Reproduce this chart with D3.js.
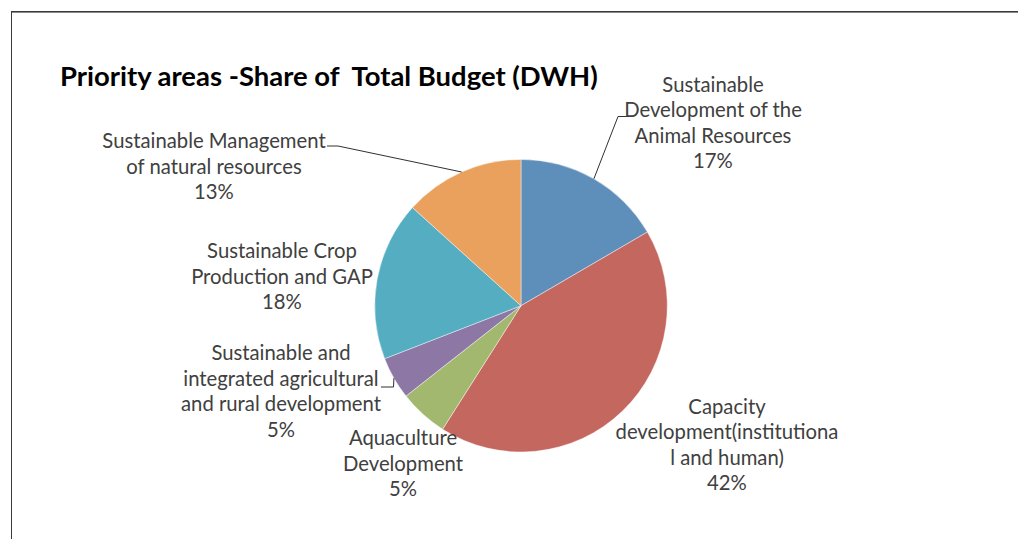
<!DOCTYPE html>
<html>
<head>
<meta charset="utf-8">
<script src="https://cdn.jsdelivr.net/npm/d3@7"></script>
<style>
  html, body { margin: 0; padding: 0; background: #fff; }
  svg { display: block; }
</style>
</head>
<body>
<svg id="chart" width="1018" height="539"></svg>
<script>
// Budget share by priority area (percent of total), clockwise from 12 o'clock
const categories = [
  "Sustainable Development of the Animal Resources",
  "Capacity development(institutional and human)",
  "Aquaculture Development",
  "Sustainable and integrated agricultural and rural development",
  "Sustainable Crop Production and GAP",
  "Sustainable Management of natural resources"
];
const shares = [16.6, 42.4, 5.4, 4.7, 17.6, 13.3];
const colors = ["#5E8FBB", "#C4675F", "#A2B86E", "#8D77A4", "#54ADC1", "#E9A15D"];
const labelLines = [
  ["Sustainable", "Development of the", "Animal Resources"],
  ["Capacity", "development(institutiona", "l and human)"],
  ["Aquaculture", "Development"],
  ["Sustainable and", "integrated agricultural", "and rural development"],
  ["Sustainable Crop", "Production and GAP"],
  ["Sustainable Management", "of natural resources"]
];
const title = "Priority areas -Share of  Total Budget (DWH)";

// layout
const cx = 521, cy = 305.7, radius = 146.3;
const lineGap = 25.6;
const labelPos = [
  { x: 713, y: 91.5 },
  { x: 727, y: 413.5 },
  { x: 403, y: 445 },
  { x: 281, y: 360 },
  { x: 282, y: 258 },
  { x: 214, y: 148 }
];
// leader line elbow and end points (null = no leader)
const leaders = [
  [[618, 116.5], [627, 116.5]],
  null,
  null,
  [[393.5, 387], [381, 387]],
  null,
  [[338, 146], [327, 146]]
];

const svg = d3.select("#chart");

// chart area border (top and left edges visible)
svg.append("line").attr("x1", 11).attr("y1", 12.5).attr("x2", 1018).attr("y2", 12.5)
  .attr("stroke", "#8a8a8a").attr("stroke-width", 1);
svg.append("line").attr("x1", 11).attr("y1", 11.5).attr("x2", 1018).attr("y2", 11.5)
  .attr("stroke", "#3a3a3a").attr("stroke-width", 1);
svg.append("line").attr("x1", 11.5).attr("y1", 11).attr("x2", 11.5).attr("y2", 539)
  .attr("stroke", "#3a3a3a").attr("stroke-width", 1);

// title
const titleText = svg.append("text")
  .attr("x", 60).attr("y", 86)
  .attr("font-family", "Lato, 'Open Sans', sans-serif")
  .attr("font-weight", "bold")
  .attr("font-size", 22)
  .attr("fill", "#000")
  .style("white-space", "pre")
  .text(title);
{
  const w = titleText.node().getComputedTextLength();
  titleText.attr("font-size", 22 * 538 / w);
}

const total = d3.sum(shares);
const data = categories.map((c, i) => ({ name: c, value: shares[i], i }));

const pie = d3.pie().value(d => d.value).sort(null);
const arcs = pie(data);
const arc = d3.arc().innerRadius(0).outerRadius(radius);

const g = svg.append("g").attr("transform", `translate(${cx},${cy})`);
g.selectAll("path.slice")
  .data(arcs)
  .join("path")
  .attr("class", "slice")
  .attr("d", arc)
  .attr("fill", d => colors[d.data.i])
  .attr("stroke", "#ffffff")
  .attr("stroke-opacity", 0.55)
  .attr("stroke-width", 0.8);

// leader lines from slice mid-angle on the rim
arcs.forEach(a => {
  const L = leaders[a.data.i];
  if (!L) return;
  const mid = (a.startAngle + a.endAngle) / 2;
  const sx = cx + radius * Math.sin(mid);
  const sy = cy - radius * Math.cos(mid);
  const pts = [[sx, sy], ...L];
  svg.append("path")
    .attr("d", d3.line()(pts))
    .attr("fill", "none")
    .attr("stroke", "#303030")
    .attr("stroke-width", 1);
});

// data labels: category name + rounded percentage
const labelsG = svg.append("g")
  .attr("font-family", "Lato, 'Open Sans', sans-serif")
  .attr("fill", "#404040")
  .attr("text-anchor", "middle");

// size the label font so the widest line fits its measured width
const probe = labelsG.append("text").attr("font-size", 20).text("Sustainable Management");
const labelSize = 20 * 223.5 / probe.node().getComputedTextLength();
probe.remove();
labelsG.attr("font-size", labelSize);

arcs.forEach(a => {
  const i = a.data.i;
  const pct = Math.round(a.data.value / total * 100) + "%";
  const lines = [...labelLines[i], pct];
  const t = labelsG.append("text");
  lines.forEach((ln, k) => {
    t.append("tspan")
      .attr("x", labelPos[i].x)
      .attr("y", labelPos[i].y + k * lineGap)
      .text(ln);
  });
});
</script>
</body>
</html>
